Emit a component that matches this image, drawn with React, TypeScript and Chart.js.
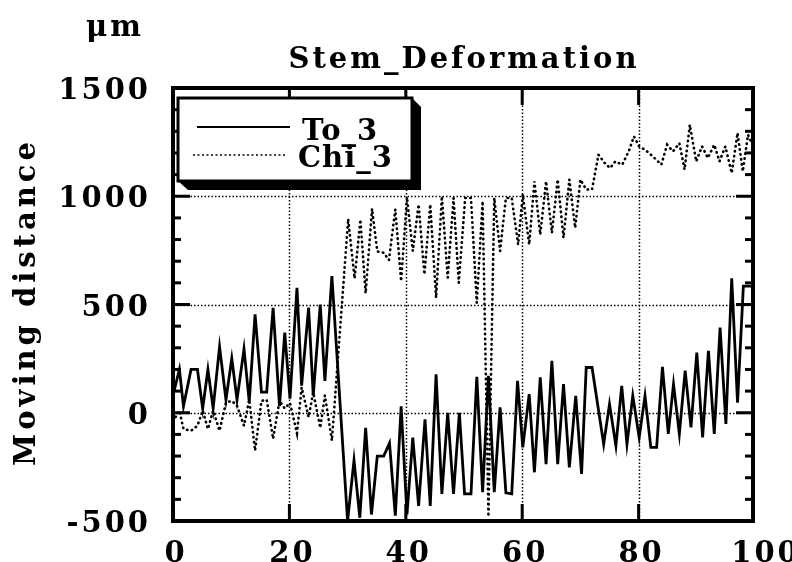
import React, { useEffect, useRef } from "react";
import { Chart, registerables } from "chart.js";

Chart.register(...registerables);

const TITLE = "Stem_Deformation";
const UNIT = "μm";
const Y_TITLE = "Moving distance";
const xTicks = [0, 20, 40, 60, 80, 100];
const yTicks = [-500, 0, 500, 1000, 1500];
const yMinorStep = 100;
const seriesNames = ["To_3", "Chi_3"];

const to3X = [0, 1.1, 1.8, 3.1, 4.2, 5.1, 6, 6.9, 8, 9.1, 10.1, 11, 12.2, 13.1, 14.1, 15.2, 16.1, 17.2, 18.3, 19.2, 20.1, 21.3, 22.1, 23.3, 24.1, 25.3, 26.1, 27.3,
  30, 31.1, 32.1, 33.1, 34.1, 35.1, 36.2, 37.2, 38.2, 39.2, 40.2, 41.2, 42.2, 43.3, 44.2, 45.2, 46.2, 47.2, 48.2, 49.2, 50.1, 51.2, 52.2, 53.2, 54.2, 55.2, 56.2, 57.2, 58.2, 59.2, 60.1, 61.2, 62.1, 63.1, 64.1, 65.1, 66.1, 67.1, 68.1, 69.2, 70.2, 71, 72, 74, 75, 76.1, 77.1, 78, 79, 80.1, 81.1, 82.1, 83.1, 84.1, 85.1, 86, 87, 88, 89, 90, 91, 92, 93, 94, 95, 96, 97, 98, 99.6, 100];
const to3Y = [80, 200, 30, 200, 200, 20, 200, 20, 305, 60, 250, 60, 295, 50, 455, 95, 95, 485, 30, 370, 65, 577, 125, 485, 80, 500, 147, 631,
  -500, -220, -485, -70, -470, -200, -200, -140, -475, 30, -470, -115, -430, -30, -430, 178, -375, 0, -375, 0, -375, -375, 166, -367, 171, -367, 25, -370, -375, 147, -160, 86, -275, 163, -237, 240, -237, 132, -252, 78, -283, 209, 209, -145, 40, -152, 124, -145, 78, -114, 78, -160, -160, 212, -98, 132, -98, 194, -68, 278, -114, 286, -98, 393, -52, 621, 47, 585, 585, 80];

const chi3X = [0, 1.1, 1.8, 3.1, 4.2, 5.1, 6, 6.9, 8, 9.1, 10.1, 11, 12.2, 13.1, 14.1, 15.2, 16.1, 17.2, 18.3, 19.2, 20.1, 21.3, 22.1, 23.3, 24.1, 25.3, 26.1, 27.3,
  30.1, 31.2, 32.2, 33.1, 34.2, 35.1, 36.2, 37.1, 38.2, 39.2, 40.2, 41.2, 42.2, 43.2, 44.2, 45.2, 46.2, 47.2, 48.2, 49.1, 50.2, 51.2, 52.2, 53.2, 54.2, 55.2, 56.2, 57.2, 58.2, 59.3, 60.1, 61.2, 62.1, 63.1, 64.1, 65.1, 66.1, 67.1, 68.1, 69.1, 70, 71, 72, 73.1, 74.2, 75.1, 76, 77.2, 78.3, 79.2, 80.1, 81.1, 82.2, 83.9, 84.9, 85.9, 87, 87.9, 88.8, 89.9, 90.9, 91.9, 93, 93.9, 94.9, 96, 97, 97.9, 98.8, 100];
const chi3Y = [-40, 10, -75, -83, -60, 10, -75, 10, -83, 47, 55, 32, -60, 60, -175, 55, 60, -120, 55, 20, 45, -95, 117, -20, 94, -70, 80, -129,
  895, 620, 892, 552, 942, 745, 739, 705, 939, 608, 995, 747, 962, 639, 962, 531, 1000, 624, 992, 600, 992, 992, 508, 977, -480, 992, 747, 992, 992, 777, 1008, 777, 1069, 823, 1069, 831, 1077, 808, 1077, 854, 1077, 1031, 1031, 1192, 1153, 1130, 1161, 1146, 1207, 1276, 1230, 1215, 1190, 1146, 1238, 1207, 1245, 1123, 1330, 1161, 1230, 1177, 1238, 1161, 1230, 1107, 1292, 1115, 1284, 1210];

const FONT = '"DejaVu Serif", "Liberation Serif", serif';

function setSpacing(ctx: any, px: number) {
  try { ctx.letterSpacing = px + "px"; } catch (e) { /* ignore */ }
}

const decorPlugin = {
  id: "decor",
  beforeDatasetsDraw(chart: any) {
    const { ctx, chartArea: a, scales } = chart;
    const xs = scales.x, ys = scales.y;
    ctx.save();
    ctx.strokeStyle = "#000";
    ctx.lineWidth = 1.5;
    ctx.setLineDash([1.5, 2]);
    for (const t of xTicks) {
      if (t <= xs.min || t >= xs.max) continue;
      const px = Math.round(xs.getPixelForValue(t)) + 0.5;
      ctx.beginPath(); ctx.moveTo(px, a.top); ctx.lineTo(px, a.bottom); ctx.stroke();
    }
    for (const t of yTicks) {
      if (t <= ys.min || t >= ys.max) continue;
      const py = Math.round(ys.getPixelForValue(t)) + 0.5;
      ctx.beginPath(); ctx.moveTo(a.left, py); ctx.lineTo(a.right, py); ctx.stroke();
    }
    ctx.restore();
  },
  afterDatasetsDraw(chart: any) {
    const { ctx, chartArea: a, scales } = chart;
    const xs = scales.x, ys = scales.y;
    ctx.save();
    ctx.strokeStyle = "#000";
    ctx.fillStyle = "#000";
    ctx.setLineDash([]);
    // frame
    ctx.lineWidth = 4;
    ctx.strokeRect(a.left, a.top, a.right - a.left - 2, a.bottom - a.top);
    // y ticks (minor + major), both sides
    ctx.lineWidth = 3;
    for (let v = ys.min + yMinorStep; v < ys.max; v += yMinorStep) {
      const py = ys.getPixelForValue(v);
      const major = yTicks.includes(v);
      const len = major ? 17 : 8;
      ctx.beginPath(); ctx.moveTo(a.left, py); ctx.lineTo(a.left + len, py); ctx.stroke();
      ctx.beginPath(); ctx.moveTo(a.right - 2, py); ctx.lineTo(a.right - 2 - len, py); ctx.stroke();
    }
    // x ticks
    for (const t of xTicks) {
      if (t <= xs.min || t >= xs.max) continue;
      const px = xs.getPixelForValue(t);
      ctx.beginPath(); ctx.moveTo(px, a.bottom); ctx.lineTo(px, a.bottom - 17); ctx.stroke();
      ctx.beginPath(); ctx.moveTo(px, a.top); ctx.lineTo(px, a.top + 17); ctx.stroke();
    }

    // legend with shadow
    const L = 178, T = 98, R = 412, B = 181, S = 9;
    ctx.beginPath();
    ctx.moveTo(R, T); ctx.lineTo(R + S, T + S); ctx.lineTo(R + S, B + S);
    ctx.lineTo(L + S + 1, B + S); ctx.lineTo(L, B); ctx.closePath();
    ctx.fill();
    ctx.fillStyle = "#fff";
    ctx.fillRect(L, T, R - L, B - T);
    ctx.fillStyle = "#000";
    ctx.lineWidth = 3;
    ctx.strokeRect(L, T, R - L, B - T);
    ctx.lineWidth = 2;
    ctx.beginPath(); ctx.moveTo(197, 127); ctx.lineTo(290, 127); ctx.stroke();
    ctx.lineWidth = 1.6;
    ctx.setLineDash([2, 2.5]);
    ctx.beginPath(); ctx.moveTo(193, 155); ctx.lineTo(285, 155); ctx.stroke();
    ctx.setLineDash([]);
    ctx.font = `bold 29px ${FONT}`;
    ctx.textAlign = "left";
    ctx.textBaseline = "alphabetic";
    setSpacing(ctx, 1);
    ctx.fillText(seriesNames[0], 302, 140);
    ctx.fillText(seriesNames[1], 298, 167);

    // y tick labels
    setSpacing(ctx, 3);
    ctx.textAlign = "right";
    for (const t of yTicks) {
      const py = ys.getPixelForValue(t);
      ctx.fillText(String(t), 151, py + 11);
    }
    // x tick labels
    ctx.textAlign = "center";
    for (let i = 0; i < xTicks.length; i++) {
      const t = xTicks[i];
      let px = xs.getPixelForValue(t) + 3;
      if (i === xTicks.length - 1) px += 8;
      ctx.fillText(String(t), px, 562);
    }
    // title
    setSpacing(ctx, 3);
    ctx.fillText(TITLE, 464, 68);
    // unit
    setSpacing(ctx, 3);
    ctx.fillText(UNIT, 115, 36);
    // y title
    ctx.save();
    ctx.translate(35, 302);
    ctx.rotate(-Math.PI / 2);
    setSpacing(ctx, 4);
    ctx.textAlign = "center";
    ctx.fillText(Y_TITLE, 0, 0);
    ctx.restore();

    ctx.restore();
  },
};

export default function App() {
  const canvasRef = useRef<HTMLCanvasElement | null>(null);
  useEffect(() => {
    document.body.style.margin = "0";
    const canvas = canvasRef.current;
    if (!canvas) return;
    const chart = new Chart(canvas, {
      type: "line",
      data: {
        datasets: [
          {
            label: seriesNames[1],
            data: chi3X.map((x, i) => ({ x, y: chi3Y[i] })),
            borderColor: "#000",
            borderWidth: 2.6,
            borderDash: [0.5, 4.5],
            borderCapStyle: "round",
            pointRadius: 0,
            tension: 0,
            fill: false,
          },
          {
            label: seriesNames[0],
            data: to3X.map((x, i) => ({ x, y: to3Y[i] })),
            borderColor: "#000",
            borderWidth: 2.8,
            pointRadius: 0,
            tension: 0,
            fill: false,
          },
        ],
      },
      options: {
        responsive: false,
        animation: false,
        maintainAspectRatio: false,
        layout: { padding: { left: 173, right: 37, top: 88, bottom: 41 } },
        scales: {
          x: { type: "linear", min: 0, max: 100, display: false },
          y: { type: "linear", min: -500, max: 1500, display: false },
        },
        plugins: { legend: { display: false }, tooltip: { enabled: false } },
      },
      plugins: [decorPlugin],
    });
    return () => chart.destroy();
  }, []);
  return (
    <div style={{ position: "absolute", left: 0, top: 0, width: 792, height: 562, background: "#fff" }}>
      <canvas ref={canvasRef} width={792} height={562} style={{ display: "block" }} />
    </div>
  );
}
